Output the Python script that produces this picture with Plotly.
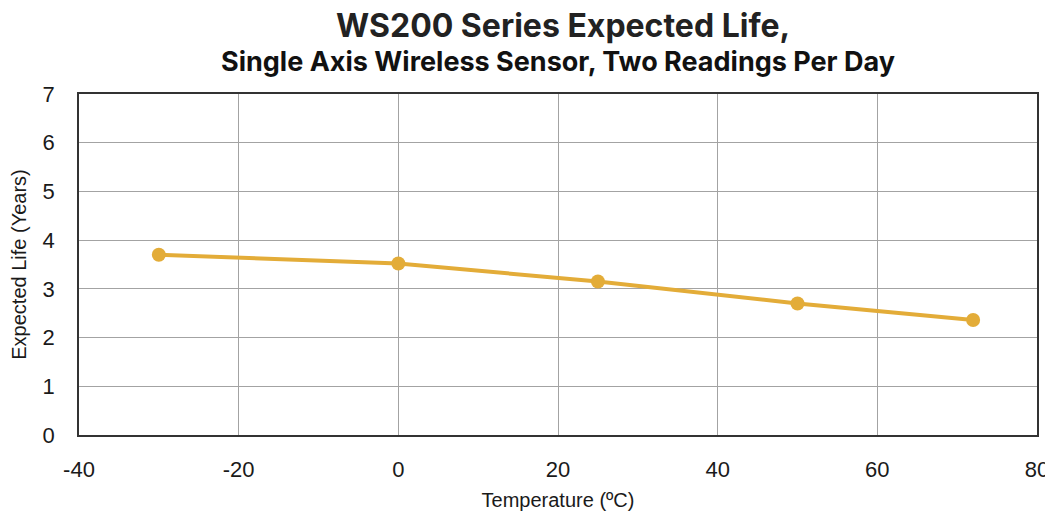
import plotly.graph_objects as go

temperature_c = [-30, 0, 25, 50, 72]
expected_life_years = [3.70, 3.52, 3.15, 2.70, 2.36]

x_ticks = [-40, -20, 0, 20, 40, 60, 80]
y_ticks = [0, 1, 2, 3, 4, 5, 6, 7]

title_text = "WS200 Series Expected Life,"
subtitle_text = "Single Axis Wireless Sensor, Two Readings Per Day"

color = "#E3AC38"

# page body has an 8px default margin, so the figure is laid out 8px smaller
W, H = 1045, 508
ML, MR, MT, MB = 71, 16, 86, 81
plot_h = H - MT - MB


def paper_y(px_from_top):
    return (H - MB - px_from_top) / plot_h


fig = go.Figure()
fig.add_trace(go.Scatter(
    x=temperature_c, y=expected_life_years, mode="lines+markers",
    line=dict(color=color, width=4),
    marker=dict(color=color, size=14),
    showlegend=False,
))

fig.add_annotation(
    text="<b>" + title_text + "</b>", xref="paper", yref="paper",
    x=0.5, y=paper_y(17.5), xanchor="center", yanchor="middle", showarrow=False,
    xshift=5,
    font=dict(family="Inter, Roboto, sans-serif", size=32, color="#222222"),
)
fig.add_annotation(
    text="<b>" + subtitle_text + "</b>", xref="paper", yref="paper",
    x=0.5, y=paper_y(53), xanchor="center", yanchor="middle", showarrow=False,
    font=dict(family="Inter, Roboto, sans-serif", size=27, color="#111111"),
)

fig.update_layout(
    width=W, height=H,
    margin=dict(l=ML, r=MR, t=MT, b=MB),
    paper_bgcolor="white", plot_bgcolor="white",
    font=dict(family="Liberation Sans, Arial, sans-serif", color="#1a1a1a"),
    xaxis=dict(
        range=[-40, 80], tickvals=x_ticks, ticktext=[str(v) for v in x_ticks],
        showgrid=True, gridcolor="#a3a3a3", gridwidth=1,
        showline=True, linecolor="#333333", linewidth=1.5, mirror=True,
        zeroline=False, ticks="", tickfont=dict(size=22), ticklabelstandoff=14,
        title=dict(text="Temperature (ºC)", font=dict(size=20), standoff=12),
        fixedrange=True, automargin=False,
    ),
    yaxis=dict(
        range=[0, 7], tickvals=y_ticks,
        showgrid=True, gridcolor="#a3a3a3", gridwidth=1,
        showline=True, linecolor="#333333", linewidth=1.5, mirror=True,
        zeroline=False, ticks="", tickfont=dict(size=22), ticklabelstandoff=18,
        title=dict(text="Expected Life (Years)", font=dict(size=20), standoff=15),
        fixedrange=True, automargin=False,
    ),
)

fig.write_html("out.html")
